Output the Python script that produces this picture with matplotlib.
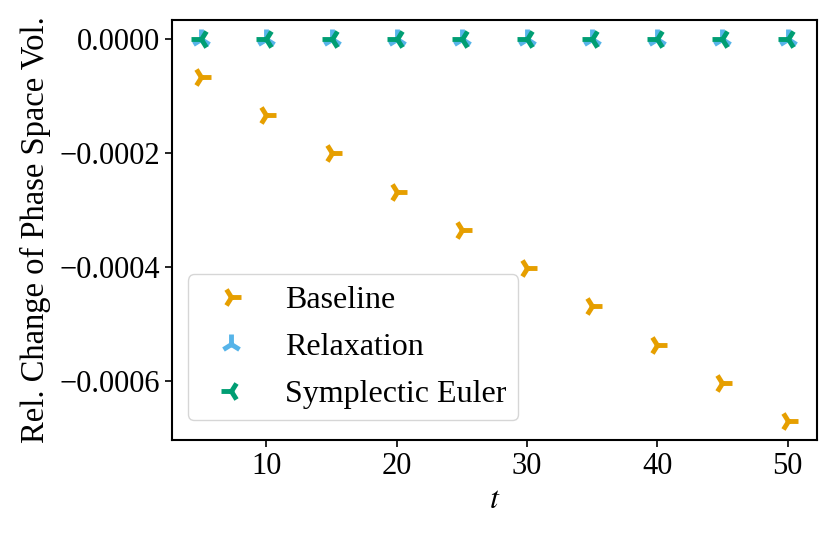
import matplotlib
matplotlib.use("Agg")
import matplotlib.pyplot as plt

t = [5, 10, 15, 20, 25, 30, 35, 40, 45, 50]
baseline = [-0.0000665, -0.000134, -0.0002005, -0.000268, -0.000335,
            -0.000402, -0.000469, -0.000536, -0.000603, -0.000670]
relaxation = [0.0] * 10
symplectic = [0.0] * 10

plt.rcParams['font.family'] = ['Liberation Serif', 'DejaVu Serif']
plt.rcParams['mathtext.fontset'] = 'stix'
plt.rcParams['font.size'] = 22

fig = plt.figure(figsize=(8.31, 5.38), dpi=100)
ax = fig.add_axes([0.207, 0.182, 0.776, 0.781])

ms = 15
mew = 3.5
ax.plot(t, baseline, linestyle='none', marker='4', color='#E69F00', ms=ms, mew=mew, label='Baseline')
ax.plot(t, relaxation, linestyle='none', marker='2', color='#56B4E9', ms=ms, mew=mew, label='Relaxation')
ax.plot(t, symplectic, linestyle='none', marker='3', color='#009E73', ms=ms, mew=mew, label='Symplectic Euler')

ax.set_xlabel('$t$', fontsize=23)
ax.set_ylabel('Rel. Change of Phase Space Vol.', fontsize=23.5, labelpad=6)
ax.set_xticks([10, 20, 30, 40, 50])
ax.set_yticks([0.0, -0.0002, -0.0004, -0.0006])
ax.set_yticklabels(['0.0000', '\u22120.0002', '\u22120.0004', '\u22120.0006'])
ax.tick_params(labelsize=22, width=1.2, length=5)
for s in ax.spines.values():
    s.set_linewidth(1.5)

ax.legend(loc='lower left', bbox_to_anchor=(0.0, 0.01), borderpad=0.35,
          labelspacing=0.55, handletextpad=0.7, fontsize=23)

fig.savefig('out.png', dpi=100)
